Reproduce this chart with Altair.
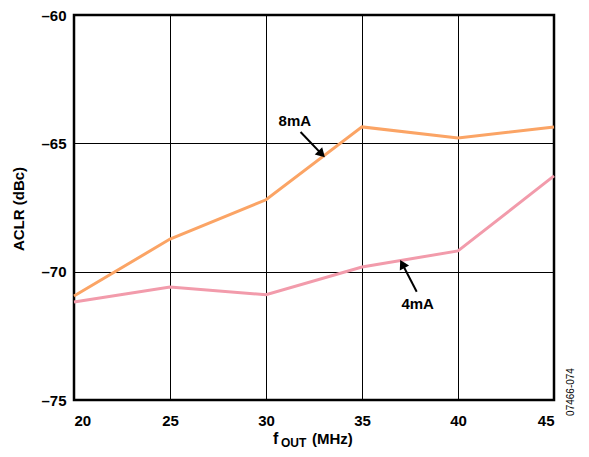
import altair as alt
import pandas as pd

freq = [20, 25, 30, 35, 40, 45]
aclr_8ma = [-70.95, -68.73, -67.2, -64.36, -64.79, -64.36]
aclr_4ma = [-71.18, -70.6, -70.9, -69.82, -69.19, -66.27]
series_names = ["8mA", "4mA"]
colors = ["#FBA465", "#F29BAB"]

x_ticks = [20, 25, 30, 35, 40, 45]
y_ticks = [-75, -70, -65, -60]

# annotation positions in data units
ann_text = ["8mA", "4mA"]
ann_tx = [31.5, 37.9]
ann_ty = [-64.13, -71.25]
arrow_x0 = [31.8, 37.85]
arrow_y0 = [-64.56, -70.78]
arrow_x1 = [32.9, 37.1]
arrow_y1 = [-65.42, -69.7]
arrow_angle = [135, 332]

rows = []
for f, a, b in zip(freq, aclr_8ma, aclr_4ma):
    rows.append({"f": f, "aclr": a, "s": series_names[0]})
    rows.append({"f": f, "aclr": b, "s": series_names[1]})
df = pd.DataFrame(rows)

ann = pd.DataFrame({"t": ann_text, "x": ann_tx, "y": ann_ty,
                    "x0": arrow_x0, "y0": arrow_y0, "x1": arrow_x1, "y1": arrow_y1,
                    "ang": arrow_angle})

FONT = "Liberation Sans"
W, H = 480, 385

xs = alt.Scale(domain=[20, 45], nice=False)
ys = alt.Scale(domain=[-75, -60], nice=False)

lines = alt.Chart(df).mark_line(strokeWidth=3).encode(
    x=alt.X("f:Q", scale=xs, axis=alt.Axis(values=x_ticks, title=None, grid=True,
            gridColor="black", gridWidth=1, gridOpacity=1, ticks=False,
            labelFont=FONT, labelFontSize=15, labelFontWeight="bold", labelColor="black",
            labelPadding=13, domain=False)),
    y=alt.Y("aclr:Q", scale=ys, axis=alt.Axis(values=y_ticks, title=None, grid=True,
            gridColor="black", gridWidth=1, gridOpacity=1, ticks=False,
            labelFont=FONT, labelFontSize=15, labelFontWeight="bold", labelColor="black",
            labelPadding=8, domain=False,
            labelExpr="datum.value < 0 ? '\u2013' + abs(datum.value) : datum.label")),
    color=alt.Color("s:N", scale=alt.Scale(domain=series_names, range=colors), legend=None),
)

texts = alt.Chart(ann).mark_text(font=FONT, fontSize=15, fontWeight="bold", color="black").encode(
    x=alt.X("x:Q", scale=xs), y=alt.Y("y:Q", scale=ys), text="t:N")

shafts = alt.Chart(ann).mark_rule(color="black", strokeWidth=2).encode(
    x=alt.X("x0:Q", scale=xs), y=alt.Y("y0:Q", scale=ys),
    x2="x1:Q", y2="y1:Q")

heads = alt.Chart(ann).mark_point(shape="triangle-up", filled=True, color="black",
                                  size=110, opacity=1).encode(
    x=alt.X("x1:Q", scale=xs), y=alt.Y("y1:Q", scale=ys), angle=alt.Angle("ang:Q", scale=None))

def label(txt, px, py, size=15, weight="bold", angle=0, align="center", baseline="middle"):
    return alt.Chart(pd.DataFrame({"t": [txt]})).mark_text(
        font=FONT, fontSize=size, fontWeight=weight, color="black", angle=angle,
        align=align, baseline=baseline).encode(
        x=alt.value(px), y=alt.value(py), text="t:N")

x0, y0 = 74, 15
xt1 = label("f", 273 - x0, 444 - y0, size=16, align="left", baseline="alphabetic")
xt2 = label("OUT", 281 - x0, 447 - y0, size=12, align="left", baseline="alphabetic")
xt3 = label("(MHz)", 312 - x0, 444 - y0, align="left", baseline="alphabetic")
yt = label("ACLR (dBc)", 19 - x0, 209 - y0, angle=270)
code = label("07466-074", 571 - x0, 392 - y0, size=10, weight="normal", angle=270)

chart = alt.layer(lines, shafts, heads, texts, xt1, xt2, xt3, yt, code).properties(
    width=W, height=H,
    autosize=alt.AutoSizeParams(type="none"),
    padding={"left": 66, "top": 7, "right": 27, "bottom": 49},
).configure_view(stroke="black", strokeWidth=2.5)

chart.save("out.html", embed_options={"renderer": "svg", "actions": False})
